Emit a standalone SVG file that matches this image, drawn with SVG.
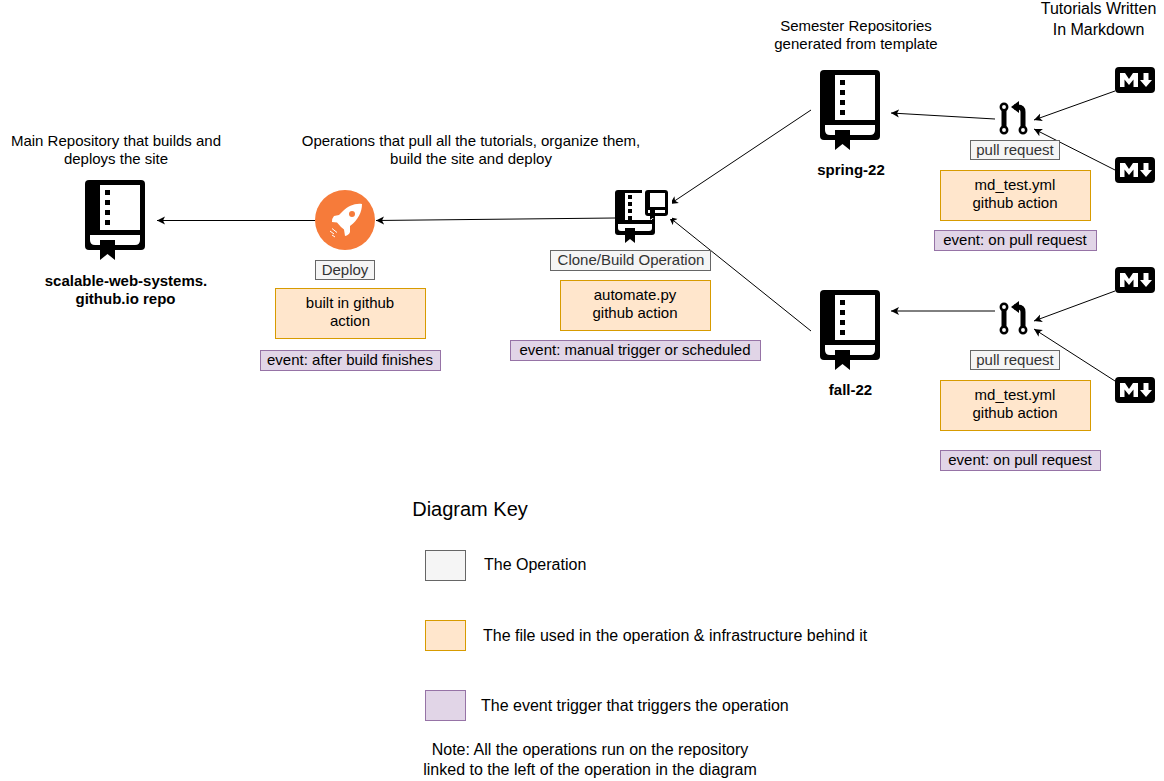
<svg xmlns="http://www.w3.org/2000/svg" width="1164" height="781" viewBox="0 0 1164 781">
<style>
text{font-family:"Liberation Sans",Arial,sans-serif;font-size:15px;fill:#000;text-anchor:middle}
.s{fill:#333}
.b{font-weight:bold}
.op{fill:#f5f5f5;stroke:#666}
.file{fill:#ffe6cc;stroke:#d79b00}
.ev{fill:#e1d5e7;stroke:#9673a6}
.l{text-anchor:start;font-size:16px}
.n{font-size:16px}
.c{fill:none;stroke:#000;stroke-width:1;marker-end:url(#a)}
</style>
<defs>
<marker id="a" markerUnits="userSpaceOnUse" markerWidth="10" markerHeight="10" refX="8" refY="5" orient="auto"><path d="M8 5 L0 1 L2 5 L0 9Z" fill="#000"/></marker>
<symbol id="book" width="60" height="80" viewBox="0 0 60 80" overflow="visible">
<rect x="0" y="0" width="60" height="70" rx="4"/>
<rect x="15" y="5" width="40" height="45" fill="#fff"/>
<path d="M5 55H55V60Q55 65 50 65H10Q5 65 5 60Z" fill="#fff"/>
<rect x="20" y="10" width="5" height="5"/><rect x="20" y="20" width="5" height="5"/><rect x="20" y="30" width="5" height="5"/><rect x="20" y="40" width="5" height="5"/>
<path d="M15 60H30V80L22.500 74L15 80Z"/>
</symbol>
<symbol id="md" width="40" height="26" viewBox="0 0 40 26" overflow="visible">
<rect width="40" height="26" rx="4"/>
<path d="M5 20V6H10L14 12L18 6H23V20H18.500V12.500L14 18L9.500 12.500V20Z" fill="#fff"/>
<path d="M28.500 6H33.500V13H37L31 20L25 13H28.500Z" fill="#fff"/>
</symbol>
<symbol id="pr" width="32" height="34" viewBox="0 0 32 34" overflow="visible">
<path d="M4 6V28" stroke="#000" stroke-width="5" fill="none"/>
<path d="M23 28V10Q23 5 18 5H14" stroke="#000" stroke-width="5" fill="none"/>
<path d="M11 5L19 -1V11Z"/>
<g fill="#fff" stroke="#000" stroke-width="2.500"><circle cx="4" cy="5" r="3.200"/><circle cx="4" cy="28" r="3.200"/><circle cx="23" cy="28" r="3.200"/></g>
</symbol>
</defs>
<g id="connectors">
<line class="c" x1="315" y1="220.500" x2="157" y2="220.500"/>
<line class="c" x1="615" y1="218" x2="376" y2="220.500"/>
<line class="c" x1="811" y1="110" x2="670" y2="204"/>
<line class="c" x1="811" y1="331" x2="669" y2="217"/>
<line class="c" x1="995" y1="119" x2="891" y2="113"/>
<line class="c" x1="995" y1="311" x2="891" y2="311"/>
<line class="c" x1="1115" y1="91" x2="1034" y2="120"/>
<line class="c" x1="1115" y1="170" x2="1034" y2="129"/>
<line class="c" x1="1115" y1="291" x2="1034" y2="321"/>
<line class="c" x1="1115" y1="381" x2="1034" y2="329"/>
</g>
<g id="main-repo"><use href="#book" x="85" y="180"/>
<text x="116" y="146">Main Repository that builds and</text><text x="116" y="164">deploys the site</text>
<text class="b" x="126" y="286">scalable-web-systems.</text><text class="b" x="125.500" y="304">github.io repo</text></g>
<g id="deploy"><circle cx="345" cy="220" r="30" fill="#f67b3a"/>
<path d="M362 204C355 203 348 206 343 211L339 215L334 216Q332 218 332 222L337 222.500L341 227L344 229.500L345 236Q349 235 350 232L350 226C358 220 362 212 362 204Z" fill="#fff"/><circle cx="352" cy="214" r="3" fill="#f67b3a"/>
<path d="M330 231L334 234M332 228.500L337 232.500M332 235L335 237" stroke="#fff" stroke-width="1" fill="none"/>
<rect class="op" x="315.500" y="260.500" width="59" height="19"/><text class="s" x="345" y="275">Deploy</text>
<rect class="file" x="275.500" y="288.500" width="150" height="50"/><text x="350" y="308">built in github</text><text x="350" y="326">action</text>
<rect class="ev" x="260.500" y="350.500" width="180" height="20"/><text x="350" y="365">event: after build finishes</text></g>
<g id="clone-build"><text x="471" y="146">Operations that pull all the tutorials, organize them,</text><text x="471" y="164">build the site and deploy</text>
<rect x="615" y="190" width="40" height="45" rx="3"/>
<rect x="625" y="193" width="27" height="27" fill="#fff"/>
<path d="M618 224H652V228Q652 231 649 231H621Q618 231 618 228Z" fill="#fff"/>
<rect x="628" y="195" width="4" height="4"/><rect x="628" y="202" width="4" height="4"/><rect x="628" y="209" width="4" height="4"/><rect x="628" y="216" width="4" height="4"/>
<path d="M625 228H635V243L630 239L625 243Z"/>
<rect x="642" y="187" width="30" height="32" fill="#fff"/>
<rect x="645" y="190" width="23" height="26" rx="3"/>
<rect x="650" y="193" width="15" height="14" fill="#fff"/><rect x="648" y="210" width="17" height="3" fill="#fff"/><path d="M650 209H655V220L652.500 218L650 220Z"/>
<rect class="op" x="550.500" y="250.500" width="160" height="20"/><text class="s" x="631" y="265">Clone/Build Operation</text>
<rect class="file" x="560.500" y="280.500" width="150" height="50"/><text x="635" y="300">automate.py</text><text x="635" y="318">github action</text>
<rect class="ev" x="510.500" y="340.500" width="250" height="20"/><text x="635" y="355">event: manual trigger or scheduled</text></g>
<g id="spring-22"><text x="856" y="31">Semester Repositories</text><text x="856" y="49">generated from template</text>
<use href="#book" x="820" y="70"/><text class="b" x="851" y="175">spring-22</text></g>
<g id="fall-22"><use href="#book" x="820" y="290"/><text class="b" x="850.500" y="395">fall-22</text></g>
<g id="tutorials"><text class="n" x="1098.500" y="14">Tutorials Written</text><text class="n" x="1098.500" y="35">In Markdown</text>
<use href="#md" x="1115" y="67"/><use href="#md" x="1115" y="157"/><use href="#md" x="1115" y="267"/><use href="#md" x="1115" y="377"/></g>
<g id="pr-spring"><use href="#pr" x="1000" y="102"/>
<rect class="op" x="970.500" y="140.500" width="89" height="19"/><text class="s" x="1015" y="155">pull request</text>
<rect class="file" x="940.500" y="170.500" width="150" height="50"/><text x="1015" y="190">md_test.yml</text><text x="1015" y="208">github action</text>
<rect class="ev" x="934.500" y="230.500" width="162" height="20"/><text x="1015" y="245">event: on pull request</text></g>
<g id="pr-fall"><use href="#pr" x="1000" y="302"/>
<rect class="op" x="970.500" y="350.500" width="89" height="19"/><text class="s" x="1015" y="365">pull request</text>
<rect class="file" x="940.500" y="380.500" width="150" height="50"/><text x="1015" y="400">md_test.yml</text><text x="1015" y="418">github action</text>
<rect class="ev" x="940.500" y="450.500" width="160" height="20"/><text x="1020" y="465">event: on pull request</text></g>
<g id="key"><text x="470" y="516" style="font-size:20px">Diagram Key</text>
<rect class="op" x="425.500" y="550.500" width="40" height="30"/><text class="l" x="484" y="570">The Operation</text>
<rect class="file" x="425.500" y="620.500" width="40" height="30"/><text class="l" x="483" y="641">The file used in the operation &amp; infrastructure behind it</text>
<rect class="ev" x="425.500" y="690.500" width="40" height="30"/><text class="l" x="481" y="711">The event trigger that triggers the operation</text>
<text class="n" x="590" y="755">Note: All the operations run on the repository</text><text class="n" x="590" y="775">linked to the left of the operation in the diagram</text></g>
</svg>
